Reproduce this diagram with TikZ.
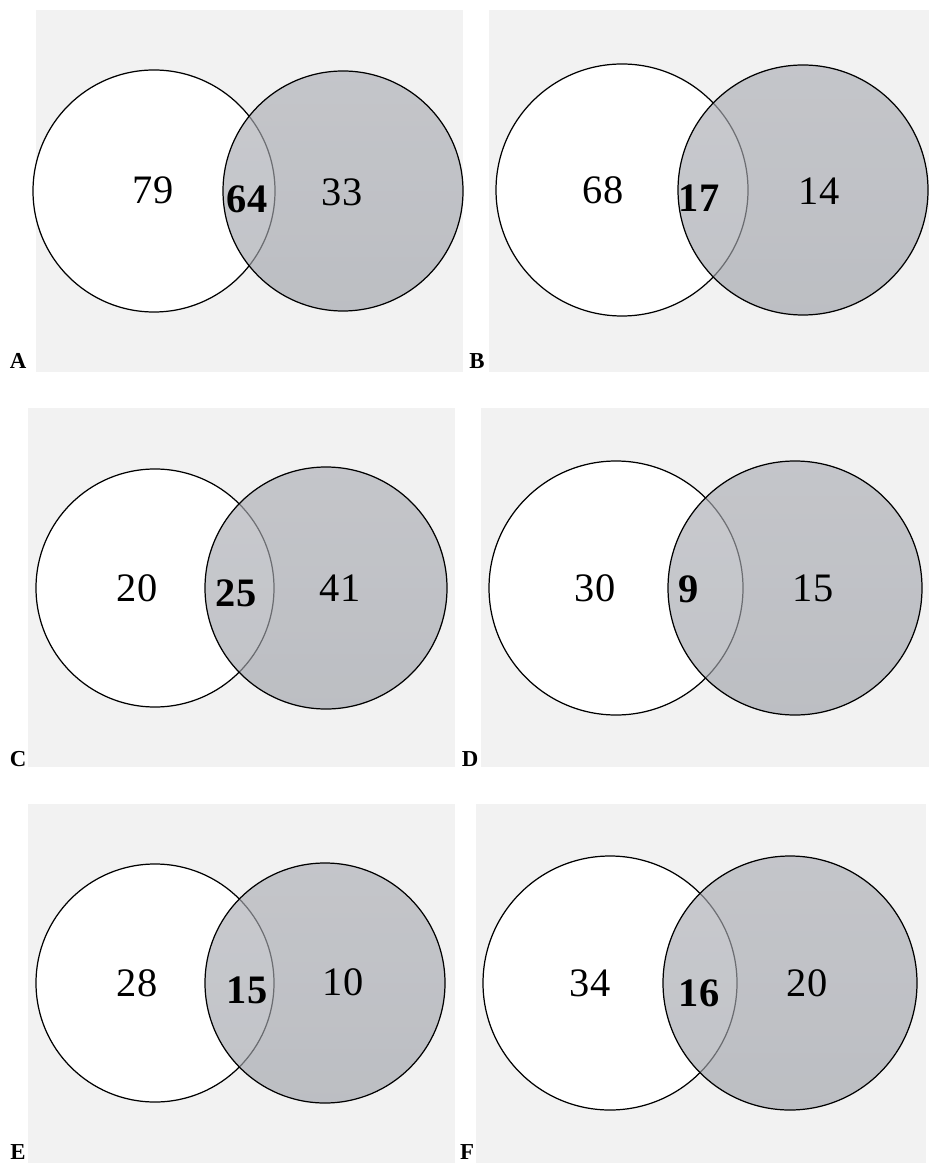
\documentclass[tikz,border=0pt]{standalone}
\usepackage{fontspec}
\setmainfont{Liberation Serif}
\usepackage{xcolor}
\definecolor{panelbg}{RGB}{242,242,242}
\definecolor{settop}{RGB}{172,174,181}
\definecolor{setbot}{RGB}{160,163,170}
\usetikzlibrary{positioning,calc}

\tikzset{
  panel/.style={fill=panelbg, draw=none},
  leftset/.style={fill=white, draw=black, line width=0.7pt},
  rightset/.style={top color=settop, bottom color=setbot, fill opacity=0.65},
  rim/.style={draw=black, line width=0.7pt},
  count/.style={font=\fontsize{23}{23}\selectfont, inner sep=0pt},
  shared/.style={font=\fontsize{23}{23}\selectfont\bfseries, inner sep=0pt},
  plabel/.style={font=\fontsize{13}{13}\selectfont\bfseries, inner sep=0pt}
}

\begin{document}
\begin{tikzpicture}[x=0.02cm, y=-0.02cm]
    \useasboundingbox (0,0) rectangle (929,1165);
    % panel A
    \fill[panel] (36,10) rectangle (463,372);
    \draw[leftset] (154,191) circle[radius=121];
    \shade[rightset] (343,191) circle[radius=120];
    \draw[rim] (343,191) circle[radius=120];
    \node[count] (a-only) at (153,190) {79};
    \node[shared] (a-both) at (247,199) {64};
    \node[count] (a-rest) at (342,192) {33};
    \node[plabel] (lab-a) at (18,361) {A};
    % panel B
    \fill[panel] (489,10) rectangle (929,372);
    \draw[leftset] (622,190) circle[radius=126];
    \shade[rightset] (803,190) circle[radius=125];
    \draw[rim] (803,190) circle[radius=125];
    \node[count] (b-only) at (603,190) {68};
    \node[shared] (b-both) at (699,198) {17};
    \node[count] (b-rest) at (819,191) {14};
    \node[plabel] (lab-b) at (477,361) {B};
    % panel C
    \fill[panel] (28,408) rectangle (455,767);
    \draw[leftset] (155,588) circle[radius=119];
    \shade[rightset] (326,588) circle[radius=121];
    \draw[rim] (326,588) circle[radius=121];
    \node[count] (c-only) at (137,588) {20};
    \node[shared] (c-both) at (236,593) {25};
    \node[count] (c-rest) at (340,588) {41};
    \node[plabel] (lab-c) at (18,759) {C};
    % panel D
    \fill[panel] (481,408) rectangle (929,767);
    \draw[leftset] (616,588) circle[radius=127];
    \shade[rightset] (795,588) circle[radius=127];
    \draw[rim] (795,588) circle[radius=127];
    \node[count] (d-only) at (595,588) {30};
    \node[shared] (d-both) at (689,589) {9};
    \node[count] (d-rest) at (813,588) {15};
    \node[plabel] (lab-d) at (470,759) {D};
    % panel E
    \fill[panel] (28,804) rectangle (455,1163);
    \draw[leftset] (155,983) circle[radius=119];
    \shade[rightset] (325,983) circle[radius=120];
    \draw[rim] (325,983) circle[radius=120];
    \node[count] (e-only) at (137,983) {28};
    \node[shared] (e-both) at (247,990) {15};
    \node[count] (e-rest) at (343,982) {10};
    \node[plabel] (lab-e) at (18,1152) {E};
    % panel F
    \fill[panel] (476,804) rectangle (926,1163);
    \draw[leftset] (610,983) circle[radius=127];
    \shade[rightset] (790,983) circle[radius=127];
    \draw[rim] (790,983) circle[radius=127];
    \node[count] (f-only) at (590,983) {34};
    \node[shared] (f-both) at (699,993) {16};
    \node[count] (f-rest) at (807,983) {20};
    \node[plabel] (lab-f) at (467,1152) {F};
\end{tikzpicture}
\end{document}
